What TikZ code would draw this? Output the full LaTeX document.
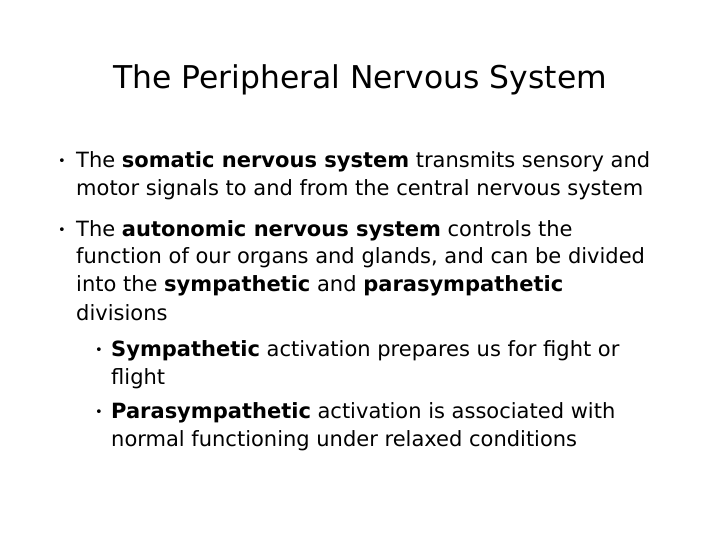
\documentclass[tikz,border=0pt]{standalone}
\usepackage{fontspec}
\setmainfont{DejaVu Sans}
\begin{document}
\begin{tikzpicture}[x=1pt,y=-1pt,
  ln/.style={anchor=west,inner sep=0pt,font=\fontsize{21}{24}\selectfont},
  bul/.style={anchor=center,inner sep=0pt,font=\fontsize{13}{15}\selectfont}]
\useasboundingbox (0,0) rectangle (720,540);
\node[font=\fontsize{31.4}{36}\selectfont] (title) at (360,80) {The Peripheral Nervous System};
\node[bul] (b1) at (62,162) {•};
\node[ln] (l1) at (76,162) {The \textbf{somatic nervous system} transmits sensory and};
\node[ln] (l2) at (76,190) {motor signals to and from the central nervous system};
\node[bul] (b2) at (62,231) {•};
\node[ln] (l3) at (76,231) {The \textbf{autonomic nervous system} controls the};
\node[ln] (l4) at (76,258) {function of our organs and glands, and can be divided};
\node[ln] (l5) at (76,286) {into the \textbf{sympathetic} and \textbf{parasympathetic}};
\node[ln] (l6) at (76,313) {divisions};
\node[bul] (b3) at (99,351) {•};
\node[ln] (l7) at (111,351) {\textbf{Sympathetic} activation prepares us for fight or};
\node[ln] (l8) at (111,379) {flight};
\node[bul] (b4) at (99,413) {•};
\node[ln] (l9) at (111,413) {\textbf{Parasympathetic} activation is associated with};
\node[ln] (l10) at (111,441) {normal functioning under relaxed conditions};
\end{tikzpicture}
\end{document}
